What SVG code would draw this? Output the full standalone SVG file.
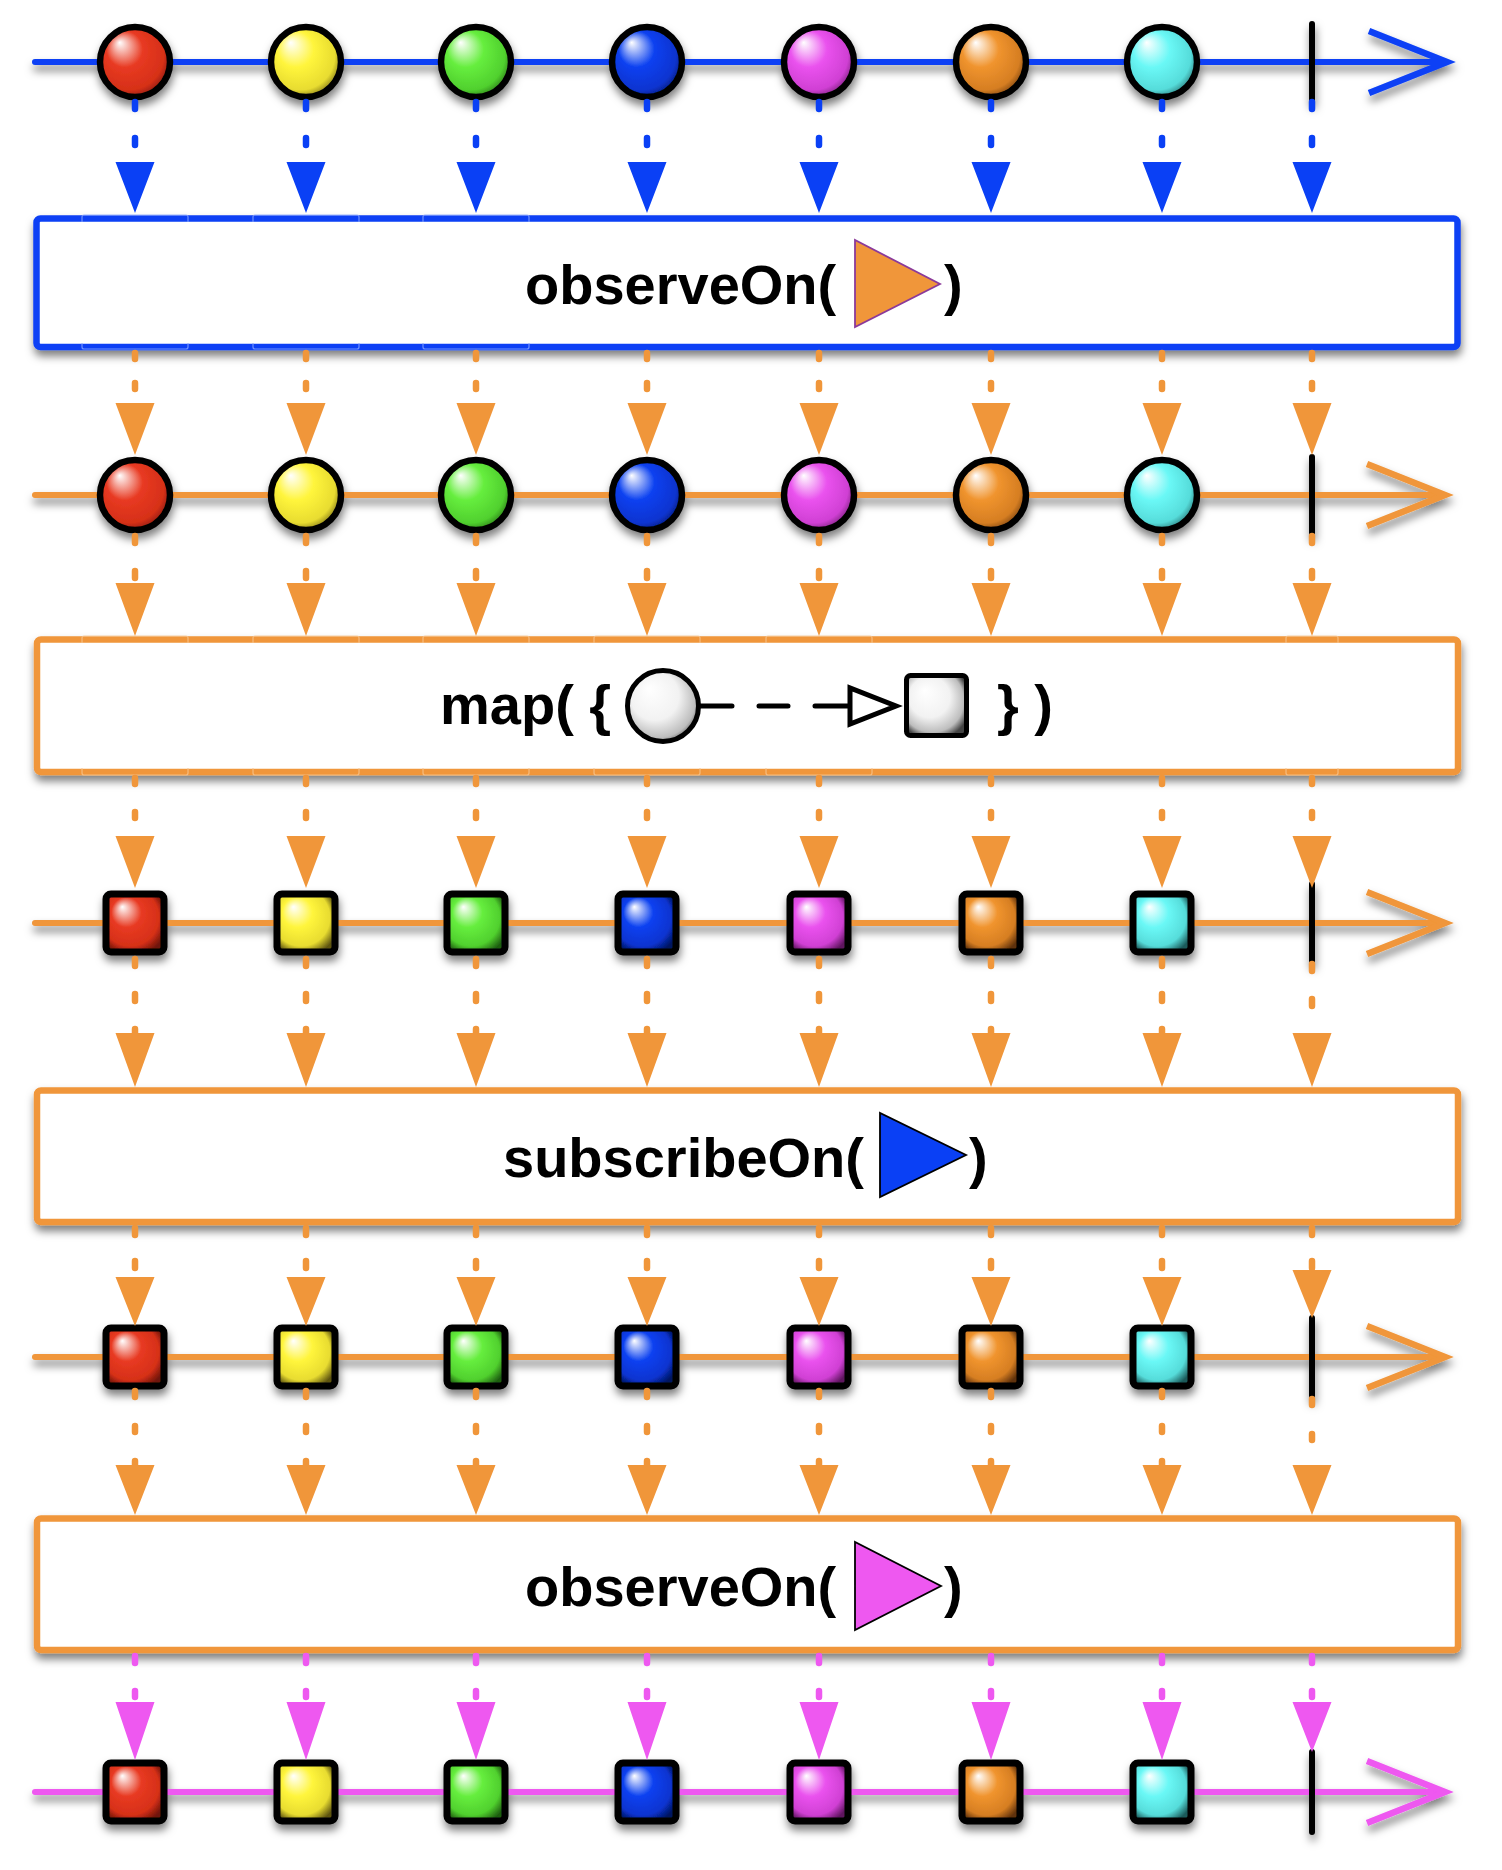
<svg xmlns="http://www.w3.org/2000/svg" width="1502" height="1870" viewBox="0 0 1502 1870">
<defs>
<filter id="sh" filterUnits="userSpaceOnUse" x="0" y="0" width="1502" height="1870">
<feDropShadow dx="1" dy="6" stdDeviation="4" flood-color="#000" flood-opacity="0.5"/>
</filter>
<radialGradient id="gR" cx="0.45" cy="0.45" r="0.62" fx="0.28" fy="0.22"><stop offset="0" stop-color="#fff"/><stop offset="0.42" stop-color="#e83a22"/><stop offset="0.8" stop-color="#d63018"/><stop offset="1" stop-color="#6e1408"/></radialGradient>
<radialGradient id="gY" cx="0.45" cy="0.45" r="0.62" fx="0.28" fy="0.22"><stop offset="0" stop-color="#fff"/><stop offset="0.42" stop-color="#fff53c"/><stop offset="0.8" stop-color="#e8dc30"/><stop offset="1" stop-color="#5e5410"/></radialGradient>
<radialGradient id="gG" cx="0.45" cy="0.45" r="0.62" fx="0.28" fy="0.22"><stop offset="0" stop-color="#fff"/><stop offset="0.42" stop-color="#66ee3e"/><stop offset="0.8" stop-color="#50d02e"/><stop offset="1" stop-color="#1e5e10"/></radialGradient>
<radialGradient id="gB" cx="0.45" cy="0.45" r="0.62" fx="0.28" fy="0.22"><stop offset="0" stop-color="#fff"/><stop offset="0.42" stop-color="#0a40f0"/><stop offset="0.8" stop-color="#0834d0"/><stop offset="1" stop-color="#04145e"/></radialGradient>
<radialGradient id="gM" cx="0.45" cy="0.45" r="0.62" fx="0.28" fy="0.22"><stop offset="0" stop-color="#fff"/><stop offset="0.42" stop-color="#ea52ee"/><stop offset="0.8" stop-color="#d040d4"/><stop offset="1" stop-color="#5e145e"/></radialGradient>
<radialGradient id="gO" cx="0.45" cy="0.45" r="0.62" fx="0.28" fy="0.22"><stop offset="0" stop-color="#fff"/><stop offset="0.42" stop-color="#f0942e"/><stop offset="0.8" stop-color="#d67e22"/><stop offset="1" stop-color="#5e300a"/></radialGradient>
<radialGradient id="gC" cx="0.45" cy="0.45" r="0.62" fx="0.28" fy="0.22"><stop offset="0" stop-color="#fff"/><stop offset="0.42" stop-color="#6af8f6"/><stop offset="0.8" stop-color="#56dcda"/><stop offset="1" stop-color="#1a5a5a"/></radialGradient>
<radialGradient id="gW" cx="0.45" cy="0.45" r="0.62" fx="0.3" fy="0.25"><stop offset="0" stop-color="#fff"/><stop offset="0.55" stop-color="#f2f2f2"/><stop offset="0.85" stop-color="#bdbdbd"/><stop offset="1" stop-color="#444"/></radialGradient>
<style>
.mb{stroke:#000;stroke-width:6.5}
.sq{stroke:#000;stroke-width:7}
.term{stroke:#000;stroke-width:6;stroke-linecap:round}
.lineB{stroke:#0a40f5;stroke-width:6;fill:none;stroke-linecap:round}
.lineO{stroke:#f0963a;stroke-width:6;fill:none;stroke-linecap:round}
.lineP{stroke:#ee58f0;stroke-width:6;fill:none;stroke-linecap:round}
.chevB{stroke:#0a40f5;stroke-width:6.5;fill:none}
.chevO{stroke:#f0963a;stroke-width:6.5;fill:none}
.chevP{stroke:#ee58f0;stroke-width:6.5;fill:none}
.boxB{fill:#fff;stroke:#0a40f5;stroke-width:6.5}
.boxO{fill:#fff;stroke:#f0963a;stroke-width:6.5}
.dB{stroke:#0a40f5;stroke-width:6.5;stroke-linecap:round;fill:none}
.dO{stroke:#f0963a;stroke-width:6.5;stroke-linecap:round;fill:none}
.dP{stroke:#ee58f0;stroke-width:6.5;stroke-linecap:round;fill:none}
.tB{fill:#0a40f5}
.tO{fill:#f0963a}
.tP{fill:#ee58f0}
.lbl{font-family:"Liberation Sans",Arial,Helvetica,sans-serif;font-weight:bold;font-size:56px;fill:#000}
.ghB{fill:none;stroke:#8aa6ff;stroke-width:1.2;opacity:0.8}
.ghO{fill:none;stroke:#f8c690;stroke-width:1.2;opacity:0.8}
</style>
</defs>
<rect width="1502" height="1870" fill="#fff"/>

<!-- Row 1 -->
<g id="row1" filter="url(#sh)">
<line class="lineB" x1="35" y1="62" x2="1440" y2="62"/>
<polyline class="chevB" points="1369,31 1447,62 1369,93"/>
<g id="r1m1"><circle class="mb" cx="135" cy="62" r="35" fill="url(#gR)"/></g>
<g id="r1m2"><circle class="mb" cx="306" cy="62" r="35" fill="url(#gY)"/></g>
<g id="r1m3"><circle class="mb" cx="476" cy="62" r="35" fill="url(#gG)"/></g>
<g id="r1m4"><circle class="mb" cx="647" cy="62" r="35" fill="url(#gB)"/></g>
<g id="r1m5"><circle class="mb" cx="819" cy="62" r="35" fill="url(#gM)"/></g>
<g id="r1m6"><circle class="mb" cx="991" cy="62" r="35" fill="url(#gO)"/></g>
<g id="r1m7"><circle class="mb" cx="1162" cy="62" r="35" fill="url(#gC)"/></g>
<g id="r1end"><line class="term" x1="1312" y1="24" x2="1312" y2="100"/></g>
</g>

<!-- Box 1 -->
<g id="box1">
<rect class="boxB" x="36.5" y="218.5" width="1421" height="128.5" rx="4" filter="url(#sh)"/>
<path class="ghB" d="M82,222V217Q82,215 84,215H186Q188,215 188,217V222 M253,222V217Q253,215 255,215H357Q359,215 359,217V222 M423,222V217Q423,215 425,215H527Q529,215 529,217V222 M82,343V347Q82,349 84,349H186Q188,349 188,347V343 M253,343V347Q253,349 255,349H357Q359,349 359,347V343 M423,343V347Q423,349 425,349H527Q529,349 529,347V343"/>
<text class="lbl" x="525" y="304">observeOn(</text>
<polygon points="855,240 855,327 940,284" fill="#f0963a" stroke="#8b3a9a" stroke-width="1.8"/>
<text class="lbl" x="944" y="304">)</text>
</g>

<!-- Row 2 -->
<g id="row2" filter="url(#sh)">
<line class="lineO" x1="35" y1="495" x2="1438" y2="495"/>
<polyline class="chevO" points="1367,464 1445,495 1367,526"/>
<g id="r2m1"><circle class="mb" cx="135" cy="495" r="35" fill="url(#gR)"/></g>
<g id="r2m2"><circle class="mb" cx="306" cy="495" r="35" fill="url(#gY)"/></g>
<g id="r2m3"><circle class="mb" cx="476" cy="495" r="35" fill="url(#gG)"/></g>
<g id="r2m4"><circle class="mb" cx="647" cy="495" r="35" fill="url(#gB)"/></g>
<g id="r2m5"><circle class="mb" cx="819" cy="495" r="35" fill="url(#gM)"/></g>
<g id="r2m6"><circle class="mb" cx="991" cy="495" r="35" fill="url(#gO)"/></g>
<g id="r2m7"><circle class="mb" cx="1162" cy="495" r="35" fill="url(#gC)"/></g>
<g id="r2end"><line class="term" x1="1312" y1="457" x2="1312" y2="533"/></g>
</g>

<!-- Box 2 -->
<g id="box2">
<rect class="boxO" x="37" y="639.5" width="1421" height="132.5" rx="4" filter="url(#sh)"/>
<path class="ghO" d="M82,643V638Q82,636 84,636H186Q188,636 188,638V643 M253,643V638Q253,636 255,636H357Q359,636 359,638V643 M423,643V638Q423,636 425,636H527Q529,636 529,638V643 M594,643V638Q594,636 596,636H698Q700,636 700,638V643 M766,643V638Q766,636 768,636H870Q872,636 872,638V643 M1286,643V638Q1286,636 1288,636H1336Q1338,636 1338,638V643 M82,768V773Q82,775 84,775H186Q188,775 188,773V768 M253,768V773Q253,775 255,775H357Q359,775 359,773V768 M423,768V773Q423,775 425,775H527Q529,775 529,773V768 M594,768V773Q594,775 596,775H698Q700,775 700,773V768 M766,768V773Q766,775 768,775H870Q872,775 872,773V768 M1286,768V773Q1286,775 1288,775H1336Q1338,775 1338,773V768"/>
<text class="lbl" x="440" y="724">map( {</text>
<circle cx="663" cy="706" r="35.5" fill="url(#gW)" stroke="#000" stroke-width="5"/>
<path d="M699,706H732 M759,706H788 M815,706H849" stroke="#000" stroke-width="5" stroke-linecap="round" fill="none"/>
<polygon points="850,688 850,724 896,706" fill="#fff" stroke="#000" stroke-width="5" stroke-linejoin="miter"/>
<rect x="906.5" y="675.5" width="60" height="60" rx="4" fill="url(#gW)" stroke="#000" stroke-width="5"/>
<text class="lbl" x="997" y="724">} )</text>
</g>

<!-- Row 3 -->
<g id="row3" filter="url(#sh)">
<line class="lineO" x1="35" y1="923" x2="1438" y2="923"/>
<polyline class="chevO" points="1367,892 1445,923 1367,954"/>
<g id="r3m1"><rect class="sq" x="106" y="894" width="58" height="58" rx="5" fill="url(#gR)"/></g>
<g id="r3m2"><rect class="sq" x="277" y="894" width="58" height="58" rx="5" fill="url(#gY)"/></g>
<g id="r3m3"><rect class="sq" x="447" y="894" width="58" height="58" rx="5" fill="url(#gG)"/></g>
<g id="r3m4"><rect class="sq" x="618" y="894" width="58" height="58" rx="5" fill="url(#gB)"/></g>
<g id="r3m5"><rect class="sq" x="790" y="894" width="58" height="58" rx="5" fill="url(#gM)"/></g>
<g id="r3m6"><rect class="sq" x="962" y="894" width="58" height="58" rx="5" fill="url(#gO)"/></g>
<g id="r3m7"><rect class="sq" x="1133" y="894" width="58" height="58" rx="5" fill="url(#gC)"/></g>
<g id="r3end"><line class="term" x1="1312" y1="884" x2="1312" y2="961"/></g>
</g>

<!-- Box 3 -->
<g id="box3">
<rect class="boxO" x="37" y="1090.5" width="1421" height="131.5" rx="4" filter="url(#sh)"/>
<text class="lbl" x="503" y="1177">subscribeOn(</text>
<polygon points="880,1113 880,1197 966,1155" fill="#0a40f5" stroke="#000" stroke-width="1.8"/>
<text class="lbl" x="969" y="1177">)</text>
</g>

<!-- Row 4 -->
<g id="row4" filter="url(#sh)">
<line class="lineO" x1="35" y1="1357" x2="1438" y2="1357"/>
<polyline class="chevO" points="1367,1326 1445,1357 1367,1388"/>
<g id="r4m1"><rect class="sq" x="106" y="1328" width="58" height="58" rx="5" fill="url(#gR)"/></g>
<g id="r4m2"><rect class="sq" x="277" y="1328" width="58" height="58" rx="5" fill="url(#gY)"/></g>
<g id="r4m3"><rect class="sq" x="447" y="1328" width="58" height="58" rx="5" fill="url(#gG)"/></g>
<g id="r4m4"><rect class="sq" x="618" y="1328" width="58" height="58" rx="5" fill="url(#gB)"/></g>
<g id="r4m5"><rect class="sq" x="790" y="1328" width="58" height="58" rx="5" fill="url(#gM)"/></g>
<g id="r4m6"><rect class="sq" x="962" y="1328" width="58" height="58" rx="5" fill="url(#gO)"/></g>
<g id="r4m7"><rect class="sq" x="1133" y="1328" width="58" height="58" rx="5" fill="url(#gC)"/></g>
<g id="r4end"><line class="term" x1="1312" y1="1318" x2="1312" y2="1396"/></g>
</g>

<!-- Box 4 -->
<g id="box4">
<rect class="boxO" x="37" y="1518.5" width="1421" height="131.5" rx="4" filter="url(#sh)"/>
<text class="lbl" x="525" y="1606">observeOn(</text>
<polygon points="855,1542 855,1630 941,1586" fill="#ee58f0" stroke="#000" stroke-width="1.8"/>
<text class="lbl" x="944" y="1606">)</text>
</g>

<!-- Row 5 -->
<g id="row5" filter="url(#sh)">
<line class="lineP" x1="35" y1="1792" x2="1438" y2="1792"/>
<polyline class="chevP" points="1367,1761 1445,1792 1367,1823"/>
<g id="r5m1"><rect class="sq" x="106" y="1763" width="58" height="58" rx="5" fill="url(#gR)"/></g>
<g id="r5m2"><rect class="sq" x="277" y="1763" width="58" height="58" rx="5" fill="url(#gY)"/></g>
<g id="r5m3"><rect class="sq" x="447" y="1763" width="58" height="58" rx="5" fill="url(#gG)"/></g>
<g id="r5m4"><rect class="sq" x="618" y="1763" width="58" height="58" rx="5" fill="url(#gB)"/></g>
<g id="r5m5"><rect class="sq" x="790" y="1763" width="58" height="58" rx="5" fill="url(#gM)"/></g>
<g id="r5m6"><rect class="sq" x="962" y="1763" width="58" height="58" rx="5" fill="url(#gO)"/></g>
<g id="r5m7"><rect class="sq" x="1133" y="1763" width="58" height="58" rx="5" fill="url(#gC)"/></g>
<g id="r5end"><line class="term" x1="1312" y1="1752" x2="1312" y2="1832"/></g>
</g>

<!-- Connectors -->
<g id="connectors">
<path class="dB" stroke-dasharray="7 29" d="M135,102V150M306,102V150M476,102V150M647,102V150M819,102V150M991,102V150M1162,102V150M1312,102V150"/>
<path class="tB" d="M115.5,162H154.5L135,213Z M286.5,162H325.5L306,213Z M456.5,162H495.5L476,213Z M627.5,162H666.5L647,213Z M799.5,162H838.5L819,213Z M971.5,162H1010.5L991,213Z M1142.5,162H1181.5L1162,213Z M1292.5,162H1331.5L1312,213Z"/>

<path class="dO" stroke-dasharray="6 24" d="M135,353V395M306,353V395M476,353V395M647,353V395M819,353V395M991,353V395M1162,353V395M1312,353V395"/>
<path class="tO" d="M115.5,403H154.5L135,455Z M286.5,403H325.5L306,455Z M456.5,403H495.5L476,455Z M627.5,403H666.5L647,455Z M799.5,403H838.5L819,455Z M971.5,403H1010.5L991,455Z M1142.5,403H1181.5L1162,455Z M1292.5,403H1331.5L1312,455Z"/>

<path class="dO" stroke-dasharray="7 28" d="M135,536V580M306,536V580M476,536V580M647,536V580M819,536V580M991,536V580M1162,536V580M1312,536V580"/>
<path class="tO" d="M115.5,583H154.5L135,636Z M286.5,583H325.5L306,636Z M456.5,583H495.5L476,636Z M627.5,583H666.5L647,636Z M799.5,583H838.5L819,636Z M971.5,583H1010.5L991,636Z M1142.5,583H1181.5L1162,636Z M1292.5,583H1331.5L1312,636Z"/>

<path class="dO" stroke-dasharray="6 28" d="M135,778V822M306,778V822M476,778V822M647,778V822M819,778V822M991,778V822M1162,778V822M1312,778V822"/>
<path class="tO" d="M115.5,836H154.5L135,888Z M286.5,836H325.5L306,888Z M456.5,836H495.5L476,888Z M627.5,836H666.5L647,888Z M799.5,836H838.5L819,888Z M971.5,836H1010.5L991,888Z M1142.5,836H1181.5L1162,888Z M1292.5,836H1331.5L1312,888Z"/>

<path class="dO" stroke-dasharray="7 28" d="M135,959V1033M306,959V1033M476,959V1033M647,959V1033M819,959V1033M991,959V1033M1162,959V1033M1312,964V1033"/>
<path class="tO" d="M115.5,1033H154.5L135,1087Z M286.5,1033H325.5L306,1087Z M456.5,1033H495.5L476,1087Z M627.5,1033H666.5L647,1087Z M799.5,1033H838.5L819,1087Z M971.5,1033H1010.5L991,1087Z M1142.5,1033H1181.5L1162,1087Z M1292.5,1033H1331.5L1312,1087Z"/>

<path class="dO" stroke-dasharray="7 26" d="M135,1228V1272M306,1228V1272M476,1228V1272M647,1228V1272M819,1228V1272M991,1228V1272M1162,1228V1272M1312,1228V1272"/>
<path class="tO" d="M115.5,1277H154.5L135,1326Z M286.5,1277H325.5L306,1326Z M456.5,1277H495.5L476,1326Z M627.5,1277H666.5L647,1326Z M799.5,1277H838.5L819,1326Z M971.5,1277H1010.5L991,1326Z M1142.5,1277H1181.5L1162,1326Z M1292.5,1270H1331.5L1312,1318Z"/>

<path class="dO" stroke-dasharray="6 29" d="M135,1391V1465M306,1391V1465M476,1391V1465M647,1391V1465M819,1391V1465M991,1391V1465M1162,1391V1465M1312,1399V1465"/>
<path class="tO" d="M115.5,1465H154.5L135,1515Z M286.5,1465H325.5L306,1515Z M456.5,1465H495.5L476,1515Z M627.5,1465H666.5L647,1515Z M799.5,1465H838.5L819,1515Z M971.5,1465H1010.5L991,1515Z M1142.5,1465H1181.5L1162,1515Z M1292.5,1465H1331.5L1312,1515Z"/>

<path class="dP" stroke-dasharray="7 28" d="M135,1656V1697M306,1656V1697M476,1656V1697M647,1656V1697M819,1656V1697M991,1656V1697M1162,1656V1697M1312,1656V1697"/>
<path class="tP" d="M115.5,1702H154.5L135,1760Z M286.5,1702H325.5L306,1760Z M456.5,1702H495.5L476,1760Z M627.5,1702H666.5L647,1760Z M799.5,1702H838.5L819,1760Z M971.5,1702H1010.5L991,1760Z M1142.5,1702H1181.5L1162,1760Z M1292.5,1702H1331.5L1312,1752Z"/>
</g>
</svg>
